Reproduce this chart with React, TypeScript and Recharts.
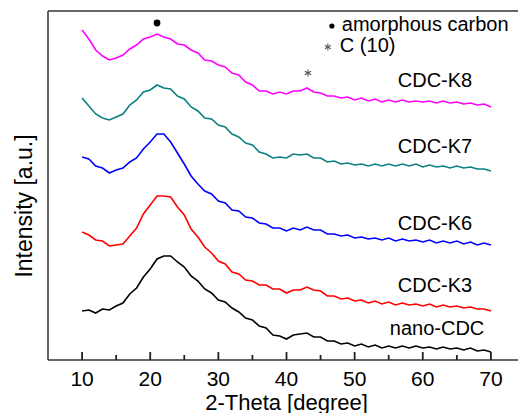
import React from 'react';
import { LineChart, Line, XAxis, YAxis, ReferenceDot } from 'recharts';

// 2-Theta sampling positions (degree)
const twoTheta: number[] = [
  10, 11, 12, 13, 14, 15, 16, 17, 18, 19, 20, 21, 22, 23, 24, 25, 26, 27, 28, 29,
  30, 31, 32, 33, 34, 35, 36, 37, 38, 39, 40, 41, 42, 43, 44, 45, 46, 47, 48, 49,
  50, 51, 52, 53, 54, 55, 56, 57, 58, 59, 60, 61, 62, 63, 64, 65, 66, 67, 68, 69, 70,
];

// Intensity (a.u., stacked with offsets as drawn)
const cdcK8: number[] = [
  330, 321, 310, 304, 300, 302, 305, 311, 315, 321, 323, 326, 323, 321, 316, 315, 310, 307, 300, 299,
  295, 293, 287, 285, 278, 275, 269, 269, 266, 268, 266, 269, 269, 272, 268, 267, 264, 264, 262, 263,
  260, 262, 259, 261, 258, 260, 258, 260, 258, 259, 258, 259, 257, 259, 257, 258, 256, 257, 255, 256, 253,
];
const cdcK7: number[] = [
  262, 254, 246, 242, 240, 243, 246, 255, 260, 268, 270, 275, 272, 271, 264, 261, 253, 249, 242, 241,
  235, 233, 226, 223, 217, 215, 208, 206, 202, 203, 202, 206, 205, 206, 202, 202, 198, 199, 196, 197,
  195, 196, 194, 196, 194, 196, 194, 196, 194, 196, 193, 195, 193, 194, 192, 194, 192, 193, 191, 191, 189,
];
const cdcK6: number[] = [
  203, 201, 194, 192, 187, 190, 192, 198, 202, 211, 218, 226, 226, 218, 207, 196, 184, 176, 169, 166,
  159, 157, 150, 149, 143, 142, 137, 136, 132, 132, 129, 132, 130, 133, 130, 130, 126, 126, 124, 125,
  122, 123, 121, 122, 120, 122, 119, 121, 119, 120, 118, 120, 117, 119, 117, 119, 116, 118, 115, 117, 115,
];
const cdcK3: number[] = [
  128, 125, 120, 119, 114, 115, 116, 124, 132, 146, 155, 164, 164, 163, 153, 145, 131, 123, 113, 107,
  99, 96, 88, 86, 80, 79, 75, 75, 71, 71, 67, 70, 70, 73, 70, 69, 64, 64, 61, 62,
  59, 60, 57, 59, 56, 58, 55, 57, 55, 56, 54, 56, 53, 55, 53, 54, 52, 53, 51, 51, 49,
];
const nanoCDC: number[] = [
  49, 50, 47, 51, 50, 54, 57, 66, 72, 83, 91, 101, 104, 104, 98, 93, 84, 79, 71, 67,
  60, 58, 52, 48, 42, 40, 34, 32, 25, 24, 21, 25, 26, 27, 23, 23, 19, 19, 16, 17,
  14, 16, 13, 15, 12, 14, 12, 14, 12, 14, 12, 13, 11, 13, 11, 12, 10, 12, 9, 10, 8,
];

const seriesKeys = ['nano', 'k3', 'k6', 'k7', 'k8'];
const seriesNames = ['nano-CDC', 'CDC-K3', 'CDC-K6', 'CDC-K7', 'CDC-K8'];
const seriesColors = ['#000000', '#ff0000', '#0000ff', '#0a8080', '#ff00ff'];
const seriesValues = [nanoCDC, cdcK3, cdcK6, cdcK7, cdcK8];

// Curve name labels (data coordinates of text start / baseline)
const nameLabelX = [55.16, 56.33, 56.33, 56.33, 56.33];
const nameLabelY = [25, 68, 130, 207, 273];

// Legend / peak annotations
const legendTexts = ['amorphous carbon', 'C (10)'];
const legendTextX = [48.12, 47.83];
const legendTextY = [329, 308];
const legendSymbolX = [46.66, 46.07];
const legendSymbolY = [334, 313];
const legendSymbols = ['dot', 'star'];
const peakSymbols = ['dot', 'star'];
const peakX = [21.0, 43.14];
const peakY = [337, 287];

const xTicks = [10, 15, 20, 25, 30, 35, 40, 45, 50, 55, 60, 65, 70];
const xDomain: [number, number] = [5, 75];
const yDomain: [number, number] = [0, 349];

const data = twoTheta.map((x, i) => {
  const row: Record<string, number> = { x };
  seriesKeys.forEach((k, s) => {
    row[k] = seriesValues[s][i];
  });
  return row;
});

const FONT = "'Liberation Sans', Arial, Helvetica, sans-serif";
const AXIS = '#333333';

const XTick = (props: any) => {
  const x = Number(props.x);
  const y = Number(props.y);
  const v = Number(props.payload.value);
  const major = v % 10 === 0;
  return (
    <g>
      <line x1={x} x2={x} y1={y} y2={y - (major ? 8 : 5)} stroke="#222" strokeWidth={1.8} />
      {major ? (
        <text x={x} y={y + 26} textAnchor="middle" fontFamily={FONT} fontSize={21} fill="#000">
          {String(v)}
        </text>
      ) : null}
    </g>
  );
};

const Star = ({ cx, cy, r, color }: { cx: number; cy: number; r: number; color: string }) => {
  const lines = [0, 60, 120].map((a) => {
    const rad = (a * Math.PI) / 180;
    const dx = Math.sin(rad) * r;
    const dy = Math.cos(rad) * r;
    return <line key={a} x1={cx - dx} y1={cy - dy} x2={cx + dx} y2={cy + dy} stroke={color} strokeWidth={1.1} />;
  });
  return <g>{lines}</g>;
};

const symbolShape = (kind: string, size: number) => (p: any) =>
  kind === 'dot' ? (
    <circle cx={p.cx} cy={p.cy} r={size} fill="#000" />
  ) : (
    <Star cx={p.cx} cy={p.cy} r={size + 0.8} color="#555" />
  );

const textShape = (txt: string) => (p: any) =>
  (
    <text x={p.cx} y={p.cy} fontFamily={FONT} fontSize={20} fill="#000" textAnchor="start">
      {txt}
    </text>
  );

export default function App() {
  return (
    <div style={{ position: 'absolute', left: 0, top: 0, width: 518, height: 413, overflow: 'hidden', background: '#fff' }}>
      <LineChart width={540} height={413} data={data} margin={{ top: 10, right: 15, bottom: 23, left: 47 }}>
        <XAxis
          dataKey="x"
          type="number"
          domain={xDomain}
          ticks={xTicks}
          interval={0}
          height={30}
          tickSize={0}
          tickMargin={0}
          tickLine={false}
          axisLine={{ stroke: AXIS, strokeWidth: 1.5 }}
          tick={XTick}
          label={(p: any) => (
            <text
              x={p.viewBox.x + p.viewBox.width / 2}
              y={410}
              textAnchor="middle"
              fontFamily={FONT}
              fontSize={22}
              fill="#000"
            >
              2-Theta [degree]
            </text>
          )}
        />
        <XAxis
          xAxisId="top"
          orientation="top"
          type="number"
          domain={xDomain}
          height={1}
          tick={false}
          tickLine={false}
          axisLine={{ stroke: AXIS, strokeWidth: 1.5 }}
        />
        <YAxis
          type="number"
          domain={yDomain}
          width={1}
          tick={false}
          tickLine={false}
          axisLine={{ stroke: AXIS, strokeWidth: 1.5 }}
          label={() => {
            const cy = 206;
            const cx = 32;
            return (
              <text
                x={cx}
                y={cy}
                transform={`rotate(-90, ${cx}, ${cy})`}
                textAnchor="middle"
                fontFamily={FONT}
                fontSize={23}
                fill="#000"
              >
                Intensity [a.u.]
              </text>
            );
          }}
        />
        {seriesKeys.map((k, s) => (
          <Line
            key={k}
            dataKey={k}
            name={seriesNames[s]}
            type="linear"
            stroke={seriesColors[s]}
            strokeWidth={1.6}
            dot={false}
            activeDot={false}
            isAnimationActive={false}
          />
        ))}
        {seriesNames.map((n, s) => (
          <ReferenceDot key={'lbl' + n} x={nameLabelX[s]} y={nameLabelY[s]} r={0} ifOverflow="visible" shape={textShape(n)} />
        ))}
        {legendTexts.map((t, i) => (
          <ReferenceDot key={'lt' + i} x={legendTextX[i]} y={legendTextY[i]} r={0} ifOverflow="visible" shape={textShape(t)} />
        ))}
        {legendSymbols.map((kind, i) => (
          <ReferenceDot key={'ls' + i} x={legendSymbolX[i]} y={legendSymbolY[i]} r={0} ifOverflow="visible" shape={symbolShape(kind, 2.6)} />
        ))}
        {peakSymbols.map((kind, i) => (
          <ReferenceDot key={'ps' + i} x={peakX[i]} y={peakY[i]} r={0} ifOverflow="visible" shape={symbolShape(kind, kind === 'dot' ? 3.4 : 2.8)} />
        ))}
      </LineChart>
    </div>
  );
}
